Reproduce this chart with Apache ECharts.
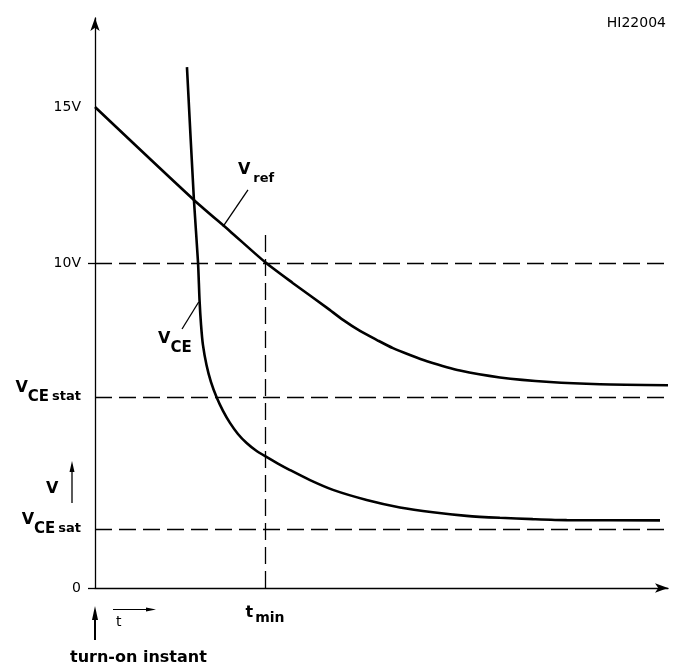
<!DOCTYPE html>
<html><head><meta charset="utf-8">
<script src="https://cdn.jsdelivr.net/npm/echarts@6/dist/echarts.min.js"></script>
<style>html,body{margin:0;padding:0;background:#fff}#c{width:679px;height:668px}</style>
</head><body><div id="c"></div>
<script>
// time axis in arbitrary units (t_min = 10), voltage axis in volts
const vrefX = [0, 5.82, 7.94, 10, 11.65, 13.65, 14.59, 15.59, 16.59, 17.53, 18.53, 19.53, 21.47, 23.82, 26.76, 29.71, 33.71];
const vrefY = [14.8, 11.94, 10.98, 10.03, 9.38, 8.62, 8.25, 7.91, 7.63, 7.38, 7.17, 6.98, 6.69, 6.48, 6.34, 6.27, 6.24];
const vceX = [5.41, 5.82, 6.06, 6.15, 6.24, 6.35, 6.56, 6.82, 7.16, 7.53, 7.94, 8.41, 8.92, 9.47, 10.06, 10.76, 11.47, 12.65, 14.0, 15.98, 17.94, 19.88, 21.86, 23.82, 25.76, 27.75, 33.24];
const vceY = [16.03, 11.94, 10.03, 8.86, 8.09, 7.48, 6.86, 6.34, 5.86, 5.45, 5.08, 4.74, 4.46, 4.23, 4.04, 3.83, 3.63, 3.32, 3.02, 2.71, 2.48, 2.33, 2.22, 2.16, 2.12, 2.09, 2.08];
const levelValues = [10, 5.88, 1.82];          // 10V, VCEstat, VCEsat
const tMin = 10;
const tMinLineTop = 10.95;
const yTickValues = [0, 1.82, 5.88, 10, 14.8];
const yTickLabels = ['0', 'VCEsat', 'VCEstat', '10V', '15V'];
const yTickMarks = [0, 10];
const xTickValues = [10];
const xTickLabels = ['tmin'];
// annotation anchors (data coords)
const vrefLabelAt = [8.41, 12.6];
const vceLabelAt = [3.71, 7.39];
const vrefLeader = [[9.0, 12.25], [7.53, 11.12]];
const vceLeader = [[5.12, 7.97], [6.1, 8.8]];

const FF = 'DejaVu Sans';
const rich = {
  n: {fontFamily: FF, fontSize: 14, color: '#000'},
  v: {fontFamily: FF, fontWeight: 'bold', fontSize: 16, color: '#000', padding: [0, 0, 18, 0]},
  s: {fontFamily: FF, fontWeight: 'bold', fontSize: 15, color: '#000'},
  s2: {fontFamily: FF, fontWeight: 'bold', fontSize: 13, color: '#000', padding: [0, 0, 0, 3]},
  t: {fontFamily: FF, fontWeight: 'bold', fontSize: 16, color: '#000', padding: [0, 0, 10, 0]},
  m: {fontFamily: FF, fontWeight: 'bold', fontSize: 14, color: '#000', padding: [0, 0, 0, 2]}
};
function richLabel(txt) {
  if (txt === 'VCEsat') return '{v|V}{s|CE}{s2|sat}';
  if (txt === 'VCEstat') return '{v|V}{s|CE}{s2|stat}';
  if (txt === 'Vref') return '{v|V}{s2|ref}';
  if (txt === 'VCE') return '{v|V}{s|CE}';
  if (txt === 'tmin') return '{t|t}{m|min}';
  return '{n|' + txt + '}';
}
function lookup(vals, labels, v) {
  for (let i = 0; i < vals.length; i++) if (Math.abs(vals[i] - v) < 1e-6) return richLabel(labels[i]);
  return '';
}
const zip = (a, b) => a.map((x, i) => [x, b[i]]);
const black = '#000';

const chart = echarts.init(document.getElementById('c'), null, {renderer: 'canvas'});
chart.setOption({
  animation: false,
  backgroundColor: '#fff',
  grid: {left: 95, right: 11, top: 18, bottom: 80},
  xAxis: {
    type: 'value', min: 0, max: 33.71,
    axisLine: {show: true, onZero: false, symbol: ['none', 'arrow'], symbolSize: [7, 13], lineStyle: {color: black, width: 1.3}},
    axisTick: {show: false},
    splitLine: {show: false},
    axisLabel: {customValues: xTickValues, margin: 17, formatter: v => lookup(xTickValues, xTickLabels, v), rich: rich}
  },
  yAxis: {
    type: 'value', min: 0, max: 17.54,
    axisLine: {show: true, onZero: false, symbol: ['none', 'arrow'], symbolSize: [7, 13], lineStyle: {color: black, width: 1.3}},
    axisTick: {show: true, customValues: yTickMarks, length: 7, lineStyle: {color: black, width: 1.3}},
    splitLine: {show: false},
    axisLabel: {customValues: yTickValues, margin: 14, formatter: v => lookup(yTickValues, yTickLabels, v), rich: rich}
  },
  series: [
    {
      type: 'line', name: 'Vref', data: zip(vrefX, vrefY), smooth: 0.25, showSymbol: false,
      lineStyle: {color: black, width: 2.6}, silent: true,
      markLine: {
        silent: true, symbol: 'none', label: {show: false},
        lineStyle: {color: black, width: 1.3, type: [17, 7]},
        data: [
          {yAxis: levelValues[0]}, {yAxis: levelValues[1]}, {yAxis: levelValues[2]},
          [{coord: [tMin, 0]}, {coord: [tMin, tMinLineTop]}],
          [{coord: vrefLeader[0], lineStyle: {type: 'solid', width: 1.3}}, {coord: vrefLeader[1]}]
        ]
      },
      markPoint: {
        silent: true, symbol: 'circle', symbolSize: 0,
        label: {show: true, position: 'right', distance: 0, formatter: () => richLabel('Vref'), rich: rich},
        data: [{coord: vrefLabelAt}]
      }
    },
    {
      type: 'line', name: 'VCE', data: zip(vceX, vceY), smooth: 0.25, showSymbol: false,
      lineStyle: {color: black, width: 2.6}, silent: true,
      markLine: {
        silent: true, symbol: 'none', label: {show: false},
        lineStyle: {color: black, width: 1.3, type: 'solid'},
        data: [[{coord: vceLeader[0]}, {coord: vceLeader[1]}]]
      },
      markPoint: {
        silent: true, symbol: 'circle', symbolSize: 0,
        label: {show: true, position: 'right', distance: 0, formatter: () => richLabel('VCE'), rich: rich},
        data: [{coord: vceLabelAt}]
      }
    }
  ],
  graphic: [
    {type: 'text', right: 13, top: 16, style: {text: 'HI22004', font: '14px "DejaVu Sans"', fill: black}},
    {type: 'text', left: 46, top: 481, style: {text: 'V', font: 'bold 16px "DejaVu Sans"', fill: black}},
    {type: 'line', shape: {x1: 72, y1: 503, x2: 72, y2: 470}, style: {stroke: black, lineWidth: 1.3}},
    {type: 'polygon', shape: {points: [[72, 461], [69.5, 472], [74.5, 472]]}, style: {fill: black}},
    {type: 'line', shape: {x1: 95, y1: 640, x2: 95, y2: 618}, style: {stroke: black, lineWidth: 2}},
    {type: 'polygon', shape: {points: [[95, 606], [92, 620], [98, 620]]}, style: {fill: black}},
    {type: 'line', shape: {x1: 113, y1: 609.5, x2: 148, y2: 609.5}, style: {stroke: black, lineWidth: 1.2}},
    {type: 'polygon', shape: {points: [[156, 609.5], [146, 607.5], [146, 611.5]]}, style: {fill: black}},
    {type: 'text', left: 116, top: 615, style: {text: 't', font: '14px "DejaVu Sans"', fill: black}},
    {type: 'text', left: 70, top: 650, style: {text: 'turn-on instant', font: 'bold 16px "DejaVu Sans"', fill: black}}
  ]
});
</script></body></html>
